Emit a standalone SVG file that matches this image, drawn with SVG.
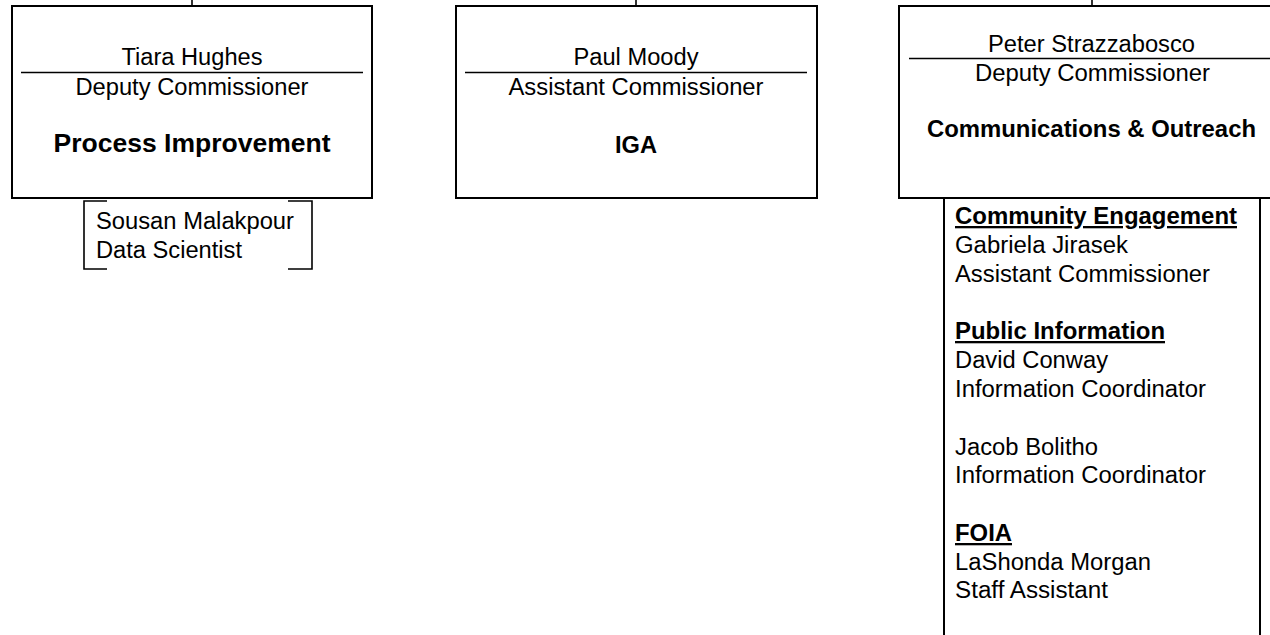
<svg xmlns="http://www.w3.org/2000/svg" width="1270" height="635" viewBox="0 0 1270 635">
<style>
.box{fill:#fff;stroke:#000;stroke-width:2}
.rule{stroke:#000;stroke-width:1.4}
.conn{stroke:#000;stroke-width:1.6;fill:none}
.t{font-family:"Liberation Sans",Arial,sans-serif;font-size:23px;fill:#000}
.c{text-anchor:middle}
.b{font-weight:bold}
.u{text-decoration:underline}
</style>
<rect width="1270" height="635" fill="#fff"/>
<g id="connectors">
<line class="conn" x1="192" y1="0" x2="192" y2="6"/>
<line class="conn" x1="636" y1="0" x2="636" y2="6"/>
<line class="conn" x1="1092" y1="0" x2="1092" y2="6"/>
</g>
<g id="node-tiara">
<rect class="box" x="12" y="6" width="360" height="192"/>
<text class="t c" x="192" y="65" textLength="141" lengthAdjust="spacingAndGlyphs">Tiara Hughes</text>
<line class="rule" x1="21" y1="72.5" x2="363" y2="72.5"/>
<text class="t c" x="192" y="95" textLength="233" lengthAdjust="spacingAndGlyphs">Deputy Commissioner</text>
<text class="t c b" x="192" y="152" style="font-size:25px" textLength="277" lengthAdjust="spacingAndGlyphs">Process Improvement</text>
</g>
<g id="node-sousan">
<path class="conn" d="M107,201 H84 V269 H107 M288,201 H312 V269 H288"/>
<text class="t" x="96" y="229" textLength="198" lengthAdjust="spacingAndGlyphs">Sousan Malakpour</text>
<text class="t" x="96" y="258" textLength="146" lengthAdjust="spacingAndGlyphs">Data Scientist</text>
</g>
<g id="node-paul">
<rect class="box" x="456" y="6" width="361" height="192"/>
<text class="t c" x="636" y="65" textLength="125" lengthAdjust="spacingAndGlyphs">Paul Moody</text>
<line class="rule" x1="465" y1="72.5" x2="807" y2="72.5"/>
<text class="t c" x="636" y="95" textLength="255" lengthAdjust="spacingAndGlyphs">Assistant Commissioner</text>
<text class="t c b" x="636" y="153" textLength="42" lengthAdjust="spacingAndGlyphs">IGA</text>
</g>
<g id="node-peter">
<rect class="box" x="899" y="6" width="386" height="192"/>
<text class="t c" x="1091.5" y="52" textLength="207" lengthAdjust="spacingAndGlyphs">Peter Strazzabosco</text>
<line class="rule" x1="909" y1="58.5" x2="1280" y2="58.5"/>
<text class="t c" x="1092.5" y="81" textLength="235" lengthAdjust="spacingAndGlyphs">Deputy Commissioner</text>
<text class="t c b" x="1091.5" y="137" textLength="329" lengthAdjust="spacingAndGlyphs">Communications &amp; Outreach</text>
</g>
<g id="node-comms-staff">
<rect class="box" x="944" y="198" width="316" height="460"/>
<text class="t b u" x="955" y="224" textLength="282" lengthAdjust="spacingAndGlyphs">Community Engagement</text>
<text class="t" x="955" y="253" textLength="173" lengthAdjust="spacingAndGlyphs">Gabriela Jirasek</text>
<text class="t" x="955" y="282" textLength="255" lengthAdjust="spacingAndGlyphs">Assistant Commissioner</text>
<text class="t b u" x="955" y="339" textLength="210" lengthAdjust="spacingAndGlyphs">Public Information</text>
<text class="t" x="955" y="368" textLength="153" lengthAdjust="spacingAndGlyphs">David Conway</text>
<text class="t" x="955" y="397" textLength="251" lengthAdjust="spacingAndGlyphs">Information Coordinator</text>
<text class="t" x="955" y="455" textLength="143" lengthAdjust="spacingAndGlyphs">Jacob Bolitho</text>
<text class="t" x="955" y="483" textLength="251" lengthAdjust="spacingAndGlyphs">Information Coordinator</text>
<text class="t b u" x="955" y="541" textLength="57" lengthAdjust="spacingAndGlyphs">FOIA</text>
<text class="t" x="955" y="570" textLength="196" lengthAdjust="spacingAndGlyphs">LaShonda Morgan</text>
<text class="t" x="955" y="598" textLength="153" lengthAdjust="spacingAndGlyphs">Staff Assistant</text>
</g>
</svg>
